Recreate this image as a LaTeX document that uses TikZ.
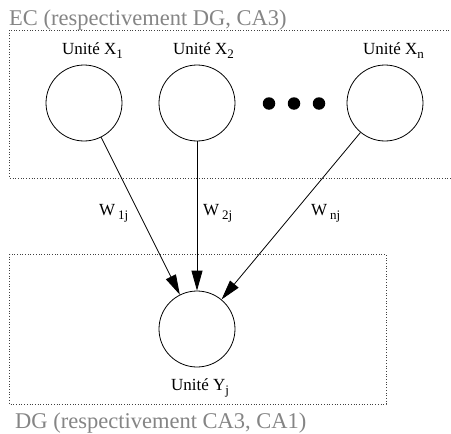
\documentclass[tikz,border=0pt]{standalone}
\usepackage{fontspec}
\setmainfont{Liberation Serif}
\usetikzlibrary{arrows.meta}
\newcommand\sbx[1]{\raisebox{-0.55ex}{\fontsize{13}{13}\selectfont #1}}
\tikzset{
  unit/.style={circle, draw, line width=0.8pt, minimum size=76pt, inner sep=0pt},
  ulabel/.style={anchor=base west, inner sep=0pt, font=\fontsize{17}{17}\selectfont},
  wlabel/.style={anchor=base west, inner sep=0pt, font=\fontsize{17}{17}\selectfont},
  grouplabel/.style={anchor=base west, inner sep=0pt, text=black!48, font=\fontsize{22.5}{22.5}\selectfont},
  groupbox/.style={draw=black!75, dotted, line width=0.7pt},
  conn/.style={line width=0.8pt, -{Triangle[length=20pt,width=11pt]}},
  dotmark/.style={circle, fill, minimum size=12.5pt, inner sep=0pt}
}
\begin{document}
\begin{tikzpicture}[x=1pt, y=-1pt]
\useasboundingbox (0,0) rectangle (451,434);
\clip (0,0) rectangle (451,434);
\fill[white] (0,0) rectangle (451,434);
% group boxes
\draw[groupbox] (9.5,30) rectangle (470,178);
\draw[groupbox] (9.5,254) rectangle (386,404);
\node[grouplabel] (ec) at (9,25) {EC (respectivement DG, CA3)};
\node[grouplabel] (dg) at (15,428) {DG (respectivement CA3, CA1)};
% units
\node[unit] (x1) at (84,103) {};
\node[unit] (x2) at (197,103) {};
\node[unit] (xn) at (385,103) {};
\node[unit] (y) at (197,329) {};
\node[ulabel] (lx1) at (62,54) {Unité X\sbx{1}};
\node[ulabel] (lx2) at (173,54) {Unité X\sbx{2}};
\node[ulabel] (lxn) at (363,54) {Unité X\sbx{n}};
\node[ulabel] (ly) at (171,390) {Unité Y\sbx{j}};
% dots
\node[dotmark] (d1) at (269,103.5) {};
\node[dotmark] (d2) at (294,103.5) {};
\node[dotmark] (d3) at (319,103.5) {};
% connectors
\draw[conn] (x1) -- (y);
\draw[conn] (x2) -- (y);
\draw[conn] (xn) -- (y);
\node[wlabel] (w1) at (99,215) {W\,\sbx{1j}};
\node[wlabel] (w2) at (203,215) {W\,\sbx{2j}};
\node[wlabel] (wn) at (311,215) {W\,\sbx{nj}};
\end{tikzpicture}
\end{document}
